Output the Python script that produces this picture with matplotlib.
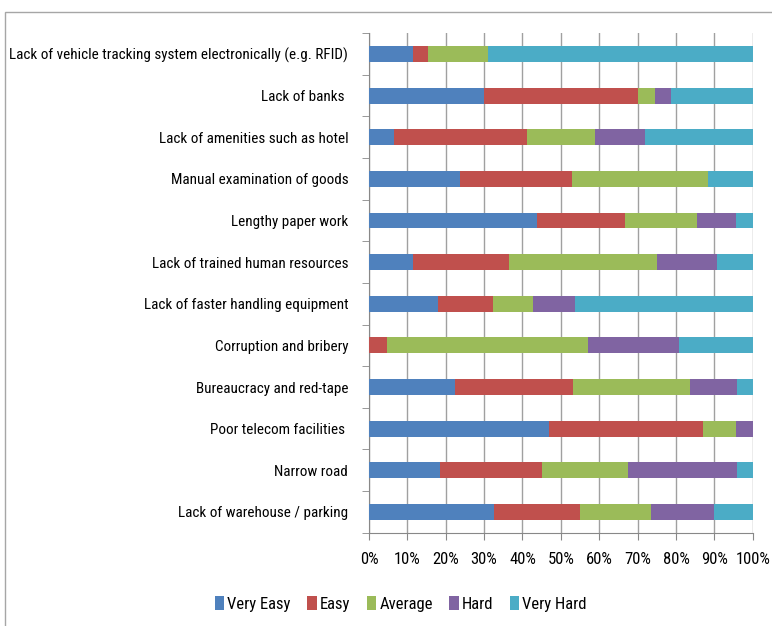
import numpy as np
import matplotlib.pyplot as plt
from matplotlib.patches import Rectangle, Patch

categories = [
    "Lack of vehicle tracking system electronically (e.g. RFID)",
    "Lack of banks ",
    "Lack of amenities such as hotel",
    "Manual examination of goods",
    "Lengthy paper work",
    "Lack of trained human resources",
    "Lack of faster handling equipment",
    "Corruption and bribery",
    "Bureaucracy and red-tape",
    "Poor telecom facilities ",
    "Narrow road",
    "Lack of warehouse / parking",
]

very_easy = [11.5, 30.0, 6.6, 23.7, 43.9, 11.4, 17.9, 0.0, 22.5, 46.9, 18.6, 32.6]
easy = [4.0, 40.0, 34.7, 29.2, 22.7, 25.0, 14.4, 4.8, 30.7, 40.2, 26.4, 22.4]
average = [15.5, 4.5, 17.5, 35.4, 18.9, 38.6, 10.5, 52.3, 30.5, 8.6, 22.4, 18.4]
hard = [0.0, 4.2, 13.0, 0.0, 10.2, 15.8, 10.8, 23.8, 12.3, 4.3, 28.6, 16.4]
very_hard = [69.0, 21.3, 28.2, 11.7, 4.3, 9.2, 46.4, 19.1, 4.0, 0.0, 4.0, 10.2]

series_names = ["Very Easy", "Easy", "Average", "Hard", "Very Hard"]
colors = ["#4F81BD", "#C0504D", "#9BBB59", "#8064A2", "#4BACC6"]

FONT = dict(family=["Roboto Condensed", "Liberation Sans", "DejaVu Sans"])


def main():
    fig = plt.figure(figsize=(7.72, 6.26), dpi=100)
    ax = fig.add_axes([0.478, 0.149, 0.497, 0.798])

    # outer chart frame, partly running off the image
    fig.patches.append(Rectangle((5 / 772, -0.2), 1.2, 1.2 - 12 / 626,
                                 transform=fig.transFigure, fill=False,
                                 edgecolor="#a6a6a6", linewidth=1.0))

    data = [very_easy, easy, average, hard, very_hard]
    y = np.arange(len(categories))
    left = np.zeros(len(categories))
    for vals, name, col in zip(data, series_names, colors):
        vals = np.array(vals)
        ax.barh(y, vals, left=left, height=0.38, color=col, label=name, zorder=3)
        left += vals

    ax.set_xlim(0, 100)
    ax.set_ylim(len(categories) - 0.5, -0.5)
    ax.set_xticks(np.arange(0, 101, 10))
    ax.set_xticklabels([f"{v}%" for v in range(0, 101, 10)], fontsize=11, **FONT)
    ax.set_yticks(y)
    ax.set_yticklabels(categories, fontsize=12, **FONT)
    ax.set_yticks(np.arange(-0.5, len(categories), 1), minor=True)
    ax.tick_params(axis="y", which="major", length=0, pad=15)
    ax.tick_params(axis="y", which="minor", length=5, color="#888888", direction="out")
    ax.tick_params(axis="x", length=5, color="#888888", direction="out", pad=9)

    # shrink labels so the longest one fits the left margin like the original
    fig.canvas.draw()
    widest = max(t.get_window_extent().width for t in ax.get_yticklabels())
    size = 12 * min(1.0, 336 / widest)
    for t in ax.get_yticklabels():
        t.set_fontsize(size)
    for t in ax.get_xticklabels():
        t.set_fontsize(size * 1.1)

    ax.grid(axis="x", color="#a0a0a0", linewidth=1.0, zorder=0)
    for s in ["top", "right"]:
        ax.spines[s].set_visible(False)
    for s in ["left", "bottom"]:
        ax.spines[s].set_color("#888888")

    handles = [Patch(facecolor=c, label=n) for c, n in zip(colors, series_names)]
    fig.legend(handles=handles, loc="center", bbox_to_anchor=(401 / 772, 1 - 604 / 626),
               ncol=5, frameon=False, prop=dict(size=size * 1.1, **FONT),
               handlelength=0.55, handleheight=0.9, handletextpad=0.2, columnspacing=1.0)

    plt.savefig("out.png", dpi=100)


if __name__ == "__main__":
    main()
